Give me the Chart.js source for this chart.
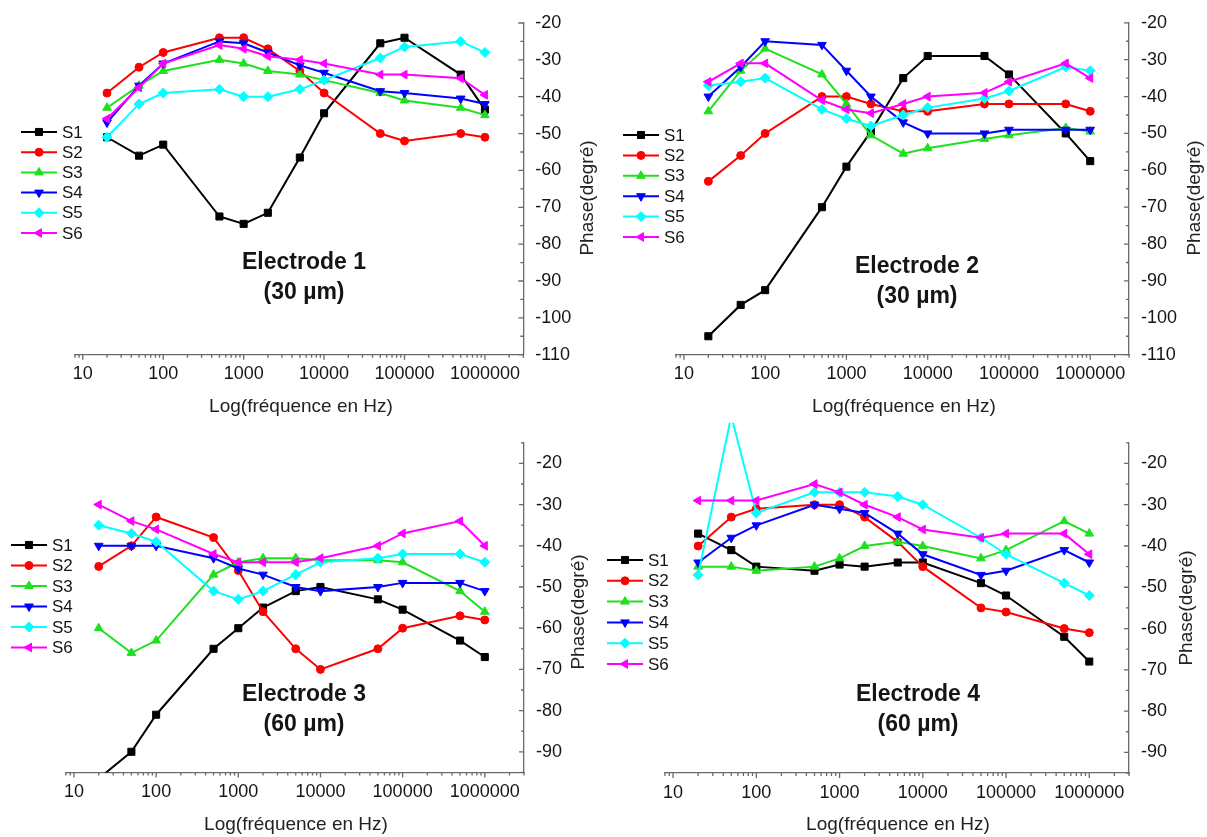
<!DOCTYPE html>
<html>
<head>
<meta charset="utf-8">
<script src="https://cdn.jsdelivr.net/npm/chart.js@4.4.1/dist/chart.umd.min.js"></script>
<style>
  body { margin: 0; background: #fff; }
  #wrap { position: relative; width: 1207px; height: 837px; overflow: hidden; }
  canvas { position: absolute; }
</style>
</head>
<body>
<div id="wrap">
  <canvas id="c1" style="left:0px;top:0px" width="603" height="420"></canvas>
  <canvas id="c2" style="left:603px;top:0px" width="604" height="420"></canvas>
  <canvas id="c3" style="left:0px;top:420px" width="603" height="417"></canvas>
  <canvas id="c4" style="left:603px;top:420px" width="604" height="417"></canvas>
</div>
<script>
// frequencies (Hz) and series names
const freq = [20, 50, 100, 500, 1000, 2000, 5000, 10000, 50000, 100000, 500000, 1000000];
const seriesNames = ['S1', 'S2', 'S3', 'S4', 'S5', 'S6'];
const decadeTicks = [10, 100, 1000, 10000, 100000, 1000000];

// phase (degrees), one row per series S1..S6
const elec1 = [
  [-51, -56, -53, -72.5, -74.5, -71.5, -56.5, -44.5, -25.5, -24, -34, -43.5],
  [-39, -32, -28, -24, -24, -27, -33, -39, -50, -52, -50, -51],
  [-43, -37, -33, -30, -31, -33, -34, -35.5, -39, -41, -43, -45],
  [-47, -37, -31, -25, -25.5, -28, -31.5, -33.5, -38.5, -39, -40.5, -42],
  [-51, -42, -39, -38, -40, -40, -38, -35.5, -29.5, -26.5, -25, -28],
  [-46, -37.5, -31, -26, -27, -29, -30, -31, -34, -34, -35, -39.5]
];
const elec2 = [
  [-105, -96.5, -92.5, -70, -59, -49.5, -35, -29, -29, -34, -50, -57.5],
  [-63, -56, -50, -40, -40, -42, -44, -44, -42, -42, -42, -44],
  [-44, -33, -27, -34, -42, -50.5, -55.5, -54, -51.5, -50.5, -48.5, -49.5],
  [-40, -32, -25, -26, -33, -40, -47, -50, -50, -49, -49, -49],
  [-37, -36, -35, -43.5, -46, -48, -45, -43, -40.5, -38.5, -32, -33],
  [-36, -31, -31, -41, -43.5, -44.5, -42, -40, -39, -36, -31, -35]
];
const elec3 = [
  [-96.5, -90, -81, -65, -60, -55, -51, -50, -53, -55.5, -63, -67],
  [-45, -40, -33, -38, -46, -56, -65, -70, -65, -60, -57, -58],
  [-60, -66, -63, -47, -44, -43, -43, -43.5, -43.5, -44, -51, -56],
  [-40, -40, -40, -43, -45.5, -47, -50, -51, -50, -49, -49, -51],
  [-35, -37, -39, -51, -53, -51, -47, -44, -43, -42, -42, -44],
  [-30, -34, -36, -42, -44, -44, -44, -43, -40, -37, -34, -40]
];
const elec4 = [
  [-37, -41, -45, -46, -44.5, -45, -44, -44, -49, -52, -62, -68],
  [-40, -33, -31, -30, -30, -33, -39, -45, -55, -56, -60, -61],
  [-45, -45, -46, -45, -43, -40, -39, -40, -43, -41, -34, -37],
  [-44, -38, -35, -30, -31, -32, -37, -42, -47, -46, -41, -44],
  [-47, -8.5, -32, -27, -27, -27, -28, -30, -38, -42, -49, -52],
  [-29, -29, -29, -25, -27, -30, -33, -36, -38, -37, -37, -42]
];

const colors = ['#000000', '#ff0000', '#1fe01f', '#0000ff', '#00ffff', '#ff00ff'];
const pointStyles = ['rect', 'circle', 'triangle', 'triangle', 'rectRot', 'triangle'];
const pointRotations = [0, 0, 0, 180, 0, 270];
const pointRadii = [5, 4, 5, 5, 5, 5];
const axisColor = '#6a6a6a';
const textColor = '#151515';
const fontFamily = '"Liberation Sans", Arial, sans-serif';

Chart.defaults.font.family = fontFamily;

const panels = [
  { id: 'c1', data: elec1, name: 'Electrode 1', size: '(30 µm)', yMin: -110, yMax: -20,
    pad: { left: 75, top: 23 }, yWidth: 79.7, xHeight: 65.3,
    legend: { x: 21, y: 132, gap: 20.2 }, label: { x: 304, y: 263 },
    xTitle: { x: 301, y: 407 }, yTitle: { x: 588, y: 198 } },
  { id: 'c2', data: elec2, name: 'Electrode 2', size: '(30 µm)', yMin: -110, yMax: -20,
    pad: { left: 73, top: 20 }, yWidth: 78, xHeight: 65.3,
    legend: { x: 20, y: 135, gap: 20.4 }, label: { x: 314, y: 267 },
    xTitle: { x: 301, y: 407 }, yTitle: { x: 592, y: 198 } },
  { id: 'c3', data: elec3, name: 'Electrode 3', size: '(60 µm)', yMin: -95, yMax: -15,
    pad: { left: 66, top: 13.3 }, yWidth: 79, xHeight: 64.6,
    legend: { x: 11, y: 125, gap: 20.5 }, label: { x: 304, y: 275 },
    xTitle: { x: 296, y: 405 }, yTitle: { x: 579, y: 192 } },
  { id: 'c4', data: elec4, name: 'Electrode 4', size: '(60 µm)', yMin: -95, yMax: -15,
    pad: { left: 62, top: 6 }, yWidth: 78, xHeight: 64,
    legend: { x: 4, y: 140, gap: 20.8 }, label: { x: 315, y: 275 },
    xTitle: { x: 295, y: 405 }, yTitle: { x: 584, y: 188 } }
];

// axis ticks (inward on y, outward on x), legend and labels
const decor = {
  id: 'decor',
  afterDraw(chart, args, o) {
    const { ctx, chartArea: a } = chart;
    const xs = chart.scales.x, ys = chart.scales.y;
    ctx.save();
    ctx.strokeStyle = axisColor;
    ctx.lineWidth = 1.3;
    ctx.beginPath();
    for (let k = 0; k <= 6; k++) {
      for (let m = 1; m < 10; m++) {
        const v = m * Math.pow(10, k);
        if (v < xs.min || v > xs.max) continue;
        const px = xs.getPixelForValue(v);
        ctx.moveTo(px, a.bottom);
        ctx.lineTo(px, a.bottom + (m === 1 ? 5 : 3));
      }
    }
    for (let v = ys.min; v <= ys.max; v += 5) {
      const py = ys.getPixelForValue(v);
      ctx.moveTo(a.right, py);
      ctx.lineTo(a.right - (v % 10 === 0 ? 5 : 3), py);
    }
    ctx.stroke();

    // legend
    const L = o.legend;
    ctx.font = '17px ' + fontFamily;
    ctx.textBaseline = 'middle';
    ctx.textAlign = 'left';
    seriesNames.forEach((s, i) => {
      const y = L.y + i * L.gap;
      ctx.strokeStyle = colors[i];
      ctx.fillStyle = colors[i];
      ctx.lineWidth = 2;
      ctx.beginPath();
      ctx.moveTo(L.x, y);
      ctx.lineTo(L.x + 36, y);
      ctx.stroke();
      ctx.lineWidth = 1;
      Chart.helpers.drawPoint(ctx, { pointStyle: pointStyles[i], rotation: pointRotations[i], radius: pointRadii[i], borderWidth: 1 }, L.x + 18, y);
      ctx.fillStyle = textColor;
      ctx.fillText(s, L.x + 41, y + 1);
    });

    // electrode label
    ctx.fillStyle = textColor;
    ctx.textAlign = 'center';
    ctx.font = 'bold 23px ' + fontFamily;
    ctx.fillText(o.name, o.label.x, o.label.y);
    ctx.fillText(o.size, o.label.x, o.label.y + 30);

    // axis titles
    ctx.font = '19px ' + fontFamily;
    ctx.fillStyle = '#222';
    ctx.fillText('Log(fréquence en Hz)', o.xTitle.x, o.xTitle.y);
    ctx.translate(o.yTitle.x, o.yTitle.y);
    ctx.rotate(-Math.PI / 2);
    ctx.fillText('Phase(degré)', 0, 0);
    ctx.restore();
  }
};

panels.forEach(p => {
  const datasets = p.data.map((vals, i) => ({
    label: seriesNames[i],
    data: freq.map((f, j) => ({ x: f, y: vals[j] })),
    borderColor: colors[i],
    backgroundColor: colors[i],
    borderWidth: 2,
    pointStyle: pointStyles[i],
    pointRotation: pointRotations[i],
    pointRadius: pointRadii[i],
    pointBorderWidth: 1,
    tension: 0,
    order: 6 - i,
    clip: { left: 20, top: 20, right: 20, bottom: 0 }
  }));
  new Chart(document.getElementById(p.id), {
    type: 'line',
    data: { datasets },
    plugins: [decor],
    options: {
      responsive: false,
      animation: false,
      layout: { autoPadding: false, padding: { left: p.pad.left, top: p.pad.top, right: 0, bottom: 0 } },
      plugins: {
        legend: { display: false },
        tooltip: { enabled: false },
        decor: { legend: p.legend, name: p.name, size: p.size, label: p.label, xTitle: p.xTitle, yTitle: p.yTitle }
      },
      scales: {
        x: {
          type: 'logarithmic',
          min: 8,
          max: 3000000,
          afterBuildTicks: s => { s.ticks = decadeTicks.map(v => ({ value: v })); },
          afterFit: s => { s.height = p.xHeight; },
          grid: { drawOnChartArea: false, drawTicks: false },
          border: { display: true, color: axisColor, width: 1.3 },
          ticks: {
            autoSkip: false, maxRotation: 0, padding: 9, color: textColor,
            font: { size: 18 },
            callback: v => String(v)
          }
        },
        y: {
          type: 'linear',
          position: 'right',
          min: p.yMin,
          max: p.yMax,
          afterBuildTicks: s => {
            const t = [];
            for (let v = Math.ceil(p.yMin / 10) * 10; v <= p.yMax; v += 10) t.push({ value: v });
            s.ticks = t;
          },
          afterFit: s => { s.width = p.yWidth; },
          grid: { drawOnChartArea: false, drawTicks: false },
          border: { display: true, color: axisColor, width: 1.3 },
          ticks: { padding: 12, color: textColor, font: { size: 18 } }
        }
      }
    }
  });
});
</script>
</body>
</html>
